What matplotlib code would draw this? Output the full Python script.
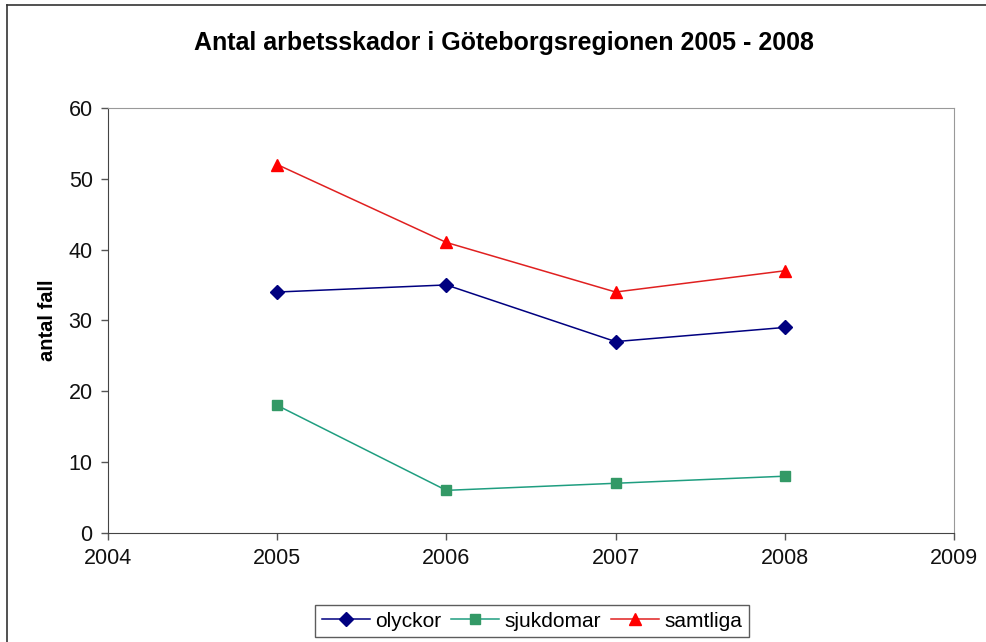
import matplotlib
matplotlib.use("Agg")
import matplotlib.pyplot as plt
from matplotlib.lines import Line2D

plt.rcParams['font.family'] = ['Liberation Sans', 'DejaVu Sans']

years = [2005, 2006, 2007, 2008]
olyckor = [34, 35, 27, 29]
sjukdomar = [18, 6, 7, 8]
samtliga = [52, 41, 34, 37]

fig = plt.figure(figsize=(9.86, 6.42), dpi=100)
ax = fig.add_axes([0.1095, 0.170, 0.858, 0.662])

ax.plot(years, olyckor, color='#000080', lw=1.1, marker='D', ms=7, label='olyckor')
ax.plot(years, sjukdomar, color='#1f9e80', lw=1.1, marker='s', ms=6.5,
        mfc='#339966', mec='#339966', label='sjukdomar')
ax.plot(years, samtliga, color='#e02020', lw=1.1, marker='^', ms=9,
        mfc='#ff0000', mec='#ff0000', label='samtliga')

ax.set_xlim(2004, 2009)
ax.set_ylim(0, 60)
ax.set_xticks(range(2004, 2010))
ax.set_yticks(range(0, 61, 10))
ax.tick_params(direction='out', length=5, width=1, color='#555555',
               labelsize=15.5, pad=6, labelcolor='#111111')
for side in ['left', 'bottom']:
    ax.spines[side].set_color('#444444')
for side in ['top', 'right']:
    ax.spines[side].set_color('#999999')

ax.set_ylabel('antal fall', fontsize=14.5, fontweight='bold', labelpad=8)
fig.text(0.511, 0.933, 'Antal arbetsskador i Göteborgsregionen 2005 - 2008',
         ha='center', va='center', fontsize=18, fontweight='bold')

# outer chart frame
fig.add_artist(Line2D([0.0071, 0.0071], [0.0, 0.9922], transform=fig.transFigure,
                      color='#333333', lw=1.2))
fig.add_artist(Line2D([0.0071, 1.0], [0.9922, 0.9922], transform=fig.transFigure,
                      color='#333333', lw=1.2))

leg = fig.legend(loc='center', bbox_to_anchor=(0.5396, 0.0327), ncol=3,
                 fontsize=15, frameon=True, fancybox=False, edgecolor='#333333',
                 handlelength=2.3, columnspacing=0.5, handletextpad=0.25,
                 borderpad=0.3, borderaxespad=0.0)
leg.get_frame().set_linewidth(1)

fig.savefig('out.png', dpi=100)
